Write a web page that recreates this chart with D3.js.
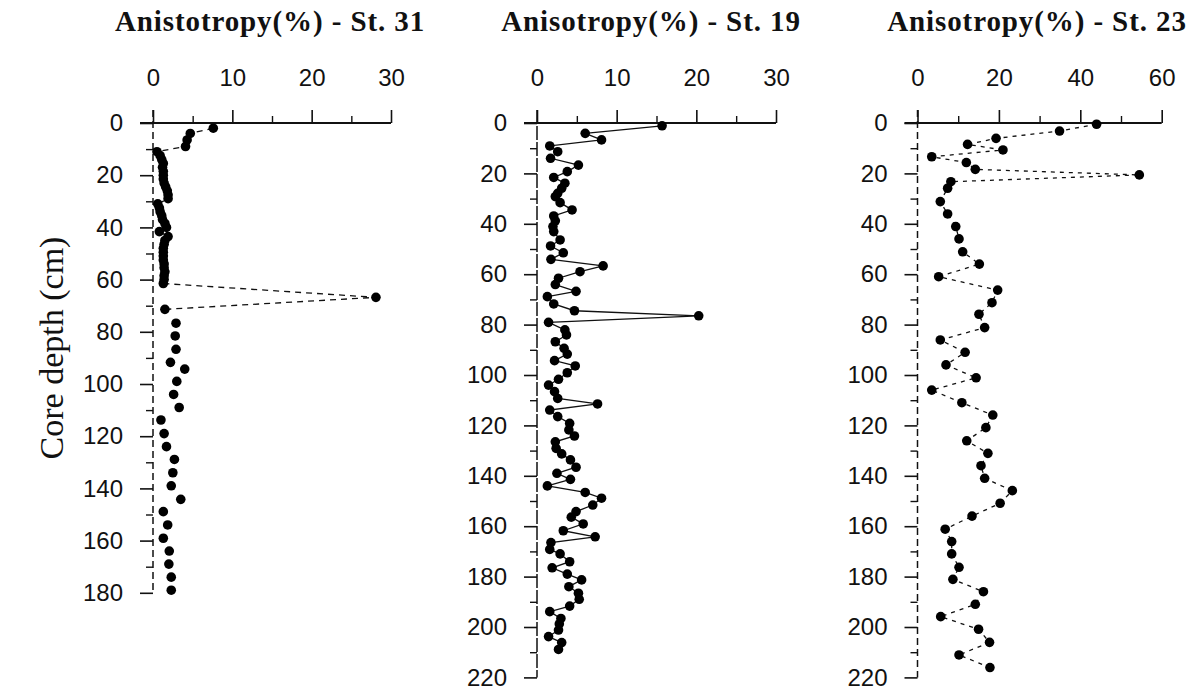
<!DOCTYPE html>
<html><head><meta charset="utf-8">
<script src="https://cdn.jsdelivr.net/npm/d3@7/dist/d3.min.js"></script>
<style>body{margin:0;background:#fff}svg{display:block}</style>
</head><body>
<svg id="c" width="1197" height="696"></svg>
<script>
// ---- data ----
const titles = ["Anistotropy(%) - St. 31", "Anisotropy(%) - St. 19", "Anisotropy(%) - St. 23"];
const yLabel = "Core depth (cm)";

const st31Depth = [2, 4, 6.5, 9, 11, 12.5, 14, 15.5, 17, 18.5, 20, 21.5, 23, 24.5, 26, 27.5, 29,
  31, 32.5, 34, 35.5, 37, 38.5, 40, 41.6, 43.5, 45, 46.5, 48, 49.5, 51, 52.5, 54, 55.5, 57, 58.5, 60, 61.5,
  66.8, 71.4, 76.7, 81.6, 86.7, 91.7, 94.3, 99, 104, 109, 113.8, 119, 124, 128.9, 134, 139, 144.2,
  148.9, 154, 159.1, 164, 169, 174, 179];
const st31Value = [7.6, 4.7, 4.3, 4.1, 0.5, 0.9, 1.1, 1.3, 1.2, 1.3, 1.3, 1.3, 1.4, 1.6, 1.8, 1.9, 1.9,
  0.6, 0.8, 0.9, 1.1, 1.2, 1.5, 1.7, 0.8, 1.9, 1.5, 1.4, 1.3, 1.3, 1.3, 1.3, 1.4, 1.4, 1.5, 1.4, 1.4, 1.3,
  28.1, 1.5, 2.9, 2.8, 2.9, 2.2, 4.0, 3.0, 2.6, 3.3, 1.0, 1.4, 1.7, 2.7, 2.5, 2.3, 3.5,
  1.3, 1.85, 1.3, 2.05, 2.0, 2.3, 2.3];
const st31LineEndDepth = 71.4; // St. 31 points are joined only down to this depth

const st19Depth = [1.1, 4.1, 6.7, 9.1, 11.4, 14, 16.7, 19.3, 21.6, 23.9, 25.9, 27.9, 29.2, 31.6, 34.5,
  36.9, 38.8, 41.1, 43.1, 46.4, 48.8, 51.5, 54.1, 56.7, 59, 61.6, 64.1, 66.8, 68.9, 71.8, 74.5, 76.5,
  79.1, 82.1, 84.1, 86.8, 89.4, 91.7, 94.3, 96.4, 99.1, 101.7, 104, 106.6, 109.3, 111.5, 113.9, 116.5,
  119.2, 121.8, 124.2, 126.5, 129.1, 131.3, 133.7, 136.6, 139, 141.4, 144, 146.6, 148.9, 151.6, 154.2,
  156.4, 159.1, 161.8, 164.2, 166.5, 169.2, 171, 174.1, 176.5, 179, 181.3, 184, 186.6, 189, 191.7,
  193.9, 196.6, 198.8, 201.2, 203.8, 206.2, 208.9];
const st19Value = [15.7, 6.05, 8.1, 1.6, 2.6, 1.7, 5.2, 3.8, 2.1, 3.5, 3.1, 2.6, 2.3, 2.9, 4.4,
  2.1, 2.3, 2.0, 2.1, 2.9, 1.7, 3.3, 1.75, 8.3, 5.4, 2.7, 2.3, 4.9, 1.3, 2.1, 4.7, 20.3,
  1.45, 3.5, 3.7, 2.3, 3.4, 3.8, 2.2, 4.8, 3.8, 2.7, 1.45, 2.2, 2.6, 7.6, 1.6, 2.6,
  4.1, 4.0, 4.7, 2.3, 2.4, 3.1, 4.2, 4.9, 2.5, 4.2, 1.3, 6.05, 8.1, 7.0, 4.9,
  4.3, 5.8, 3.3, 7.3, 1.75, 1.6, 2.9, 4.1, 1.9, 3.8, 5.6, 4.0, 5.2, 5.3, 4.1,
  1.6, 3.0, 2.8, 2.7, 1.45, 3.1, 2.7];

const st23Depth = [0.5, 3.2, 6.1, 8.5, 10.7, 13.4, 15.7, 18.4, 20.6, 23.3, 25.9, 31.2, 36.1, 41.1, 46,
  51.1, 56, 61, 66.3, 71.3, 75.9, 81.2, 86.1, 91, 96, 101.1, 106, 111, 115.9, 120.9, 126.1, 131.1, 136,
  141, 145.9, 150.9, 156, 161.2, 166.1, 171, 176.3, 181.1, 186, 191, 195.9, 200.9, 206.1, 211.1, 216.1];
const st23Value = [44.0, 34.9, 19.3, 12.3, 21.0, 3.5, 12.0, 14.2, 54.5, 8.2, 7.4, 5.6, 7.4, 9.4, 10.2,
  11.1, 15.2, 5.2, 19.7, 18.3, 15.1, 16.5, 5.6, 11.7, 7.0, 14.4, 3.5, 10.9, 18.5, 16.8, 12.1, 17.3, 15.6,
  16.5, 23.3, 20.3, 13.4, 6.8, 8.4, 8.4, 10.2, 8.7, 16.2, 14.2, 5.7, 15.0, 17.7, 10.2, 17.8];

const xMajor1 = [0, 10, 20, 30], xMinor1 = [5, 15, 25];
const xMajor3 = [0, 20, 40, 60], xMinor3 = [10, 30, 50];

// ---- layout ----
const svg = d3.select("#c");
const panels = [
  {title: titles[0], depth: st31Depth, value: st31Value, xDom: [0, 30], xRange: [153, 391],
   yDom: [0, 180], yRange: [123, 592.8], major: xMajor1, minor: xMinor1, tx: 270,
   lineEnd: st31LineEndDepth, dash: "6,5", axisDash: "7,4"},
  {title: titles[1], depth: st19Depth, value: st19Value, xDom: [0, 30], xRange: [537, 776],
   yDom: [0, 220], yRange: [123, 677.4], major: xMajor1, minor: xMinor1, tx: 651,
   lineEnd: Infinity, dash: null, axisDash: "14,2"},
  {title: titles[2], depth: st23Depth, value: st23Value, xDom: [0, 60], xRange: [917.5, 1161.7],
   yDom: [0, 220], yRange: [123, 677.4], major: xMajor3, minor: xMinor3, tx: 1037,
   lineEnd: Infinity, dash: "4,5", axisDash: "7,4"}
];

const tickFont = "'Liberation Sans', Arial, sans-serif";
const serif = "'Liberation Serif', 'Times New Roman', serif";
const majLen = 13, minLen = 7;

panels.forEach(p => {
  const x = d3.scaleLinear().domain(p.xDom).range(p.xRange);
  const y = d3.scaleLinear().domain(p.yDom).range(p.yRange);
  const g = svg.append("g");
  const x0 = x(0), y0 = y(0);

  // title
  svg.append("text").attr("x", p.tx).attr("y", 31).attr("text-anchor", "middle")
    .attr("font-family", serif).attr("font-weight", "bold")
    .attr("font-size", 29).attr("letter-spacing", 0.9).attr("fill", "#111").text(p.title);

  // top axis (major with labels)
  const xa = g.append("g").attr("transform", `translate(0,${y0})`)
    .call(d3.axisTop(x).tickValues(p.major).tickSize(majLen).tickSizeOuter(0).tickPadding(24));
  xa.select(".domain").remove();
  xa.selectAll("text").attr("font-family", tickFont).attr("font-size", 24).attr("fill", "#111");
  xa.selectAll("line").attr("stroke", "#111").attr("stroke-width", 1.6);
  const xm = g.append("g").attr("transform", `translate(0,${y0})`)
    .call(d3.axisTop(x).tickValues(p.minor).tickSize(minLen).tickFormat(""));
  xm.select(".domain").remove();
  xm.selectAll("line").attr("stroke", "#111").attr("stroke-width", 1.4);
  g.append("line").attr("x1", x0 - majLen).attr("x2", x(p.xDom[1])).attr("y1", y0).attr("y2", y0)
    .attr("stroke", "#111").attr("stroke-width", 1.8);

  // left axis
  const yMajor = d3.range(p.yDom[0], p.yDom[1] + 1, 20);
  const yMinor = d3.range(10, p.yDom[1], 20);
  const ya = g.append("g").attr("transform", `translate(${x0},0)`)
    .call(d3.axisLeft(y).tickValues(yMajor).tickSize(majLen).tickSizeOuter(0).tickPadding(17));
  ya.select(".domain").remove();
  ya.selectAll("text").attr("font-family", tickFont).attr("font-size", 24).attr("fill", "#111");
  ya.selectAll("line").attr("stroke", "#111").attr("stroke-width", 1.6);
  const ym = g.append("g").attr("transform", `translate(${x0},0)`)
    .call(d3.axisLeft(y).tickValues(yMinor).tickSize(minLen).tickFormat(""));
  ym.select(".domain").remove();
  ym.selectAll("line").attr("stroke", "#111").attr("stroke-width", 1.4);
  g.append("line").attr("x1", x0).attr("x2", x0).attr("y1", y0 - majLen).attr("y2", y(p.yDom[1]))
    .attr("stroke", "#111").attr("stroke-width", 1.5).attr("stroke-dasharray", p.axisDash);

  // data
  const pts = p.depth.map((d, i) => ({d, v: p.value[i]}));
  const line = d3.line().x(o => x(o.v)).y(o => y(o.d));
  g.append("path").datum(pts.filter(o => o.d <= p.lineEnd)).attr("d", line)
    .attr("fill", "none").attr("stroke", "#111").attr("stroke-width", 1.3)
    .attr("stroke-dasharray", p.dash);
  g.selectAll("circle.pt").data(pts).join("circle").attr("class", "pt")
    .attr("cx", o => x(o.v)).attr("cy", o => y(o.d)).attr("r", 4.8).attr("fill", "#000");
});

// y-axis title
svg.append("text").attr("transform", "translate(63,348) rotate(-90)").attr("text-anchor", "middle")
  .attr("font-family", serif).attr("font-size", 34)
  .attr("fill", "#111").text(yLabel);
</script>
</body></html>
